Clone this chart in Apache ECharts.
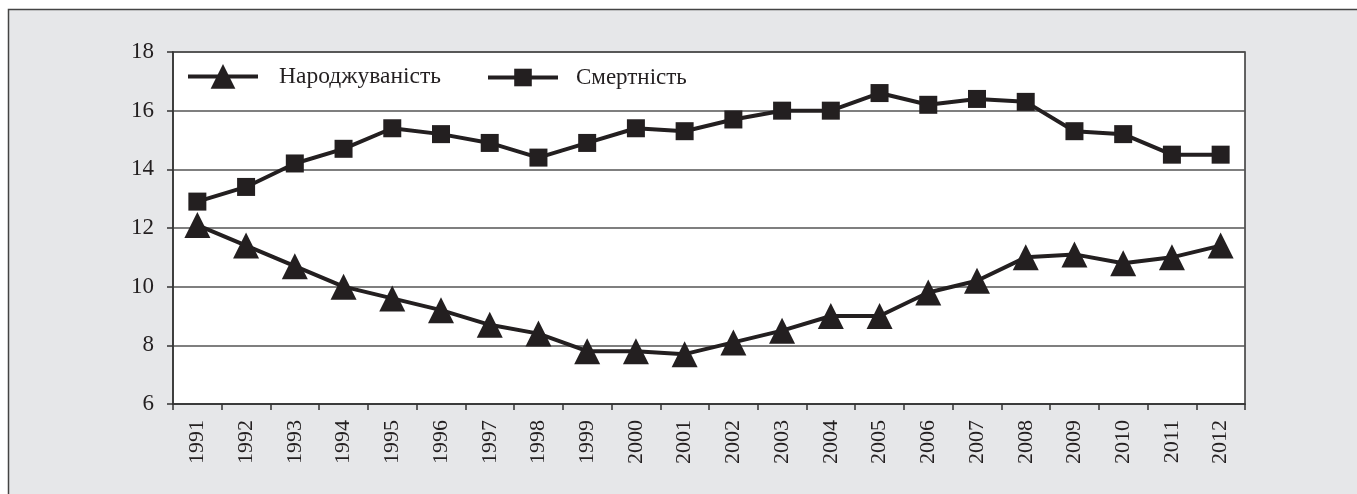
<!DOCTYPE html>
<html><head><meta charset="utf-8">
<script src="https://cdn.jsdelivr.net/npm/echarts@6/dist/echarts.min.js"></script>
<style>html,body{margin:0;padding:0;background:#fff}#c{width:1357px;height:494px}</style>
</head><body><div id="c"></div>
<script>
const years = ['1991','1992','1993','1994','1995','1996','1997','1998','1999','2000','2001','2002','2003','2004','2005','2006','2007','2008','2009','2010','2011','2012'];
const births = [12.1,11.4,10.7,10.0,9.6,9.2,8.7,8.4,7.8,7.8,7.7,8.1,8.5,9.0,9.0,9.8,10.2,11.0,11.1,10.8,11.0,11.4];
const deaths = [12.9,13.4,14.2,14.7,15.4,15.2,14.9,14.4,14.9,15.4,15.3,15.7,16.0,16.0,16.6,16.2,16.4,16.3,15.3,15.2,14.5,14.5];
const yTicks = {min:6, max:18, interval:2};
const names = ['Народжуваність','Смертність'];

const font = '"Liberation Serif", "DejaVu Serif", serif';
const ink = '#231f20';
const legendText1 = {fontFamily:font, fontSize:23.5, color:ink, padding:[0,0,0,16]};
const legendText2 = {fontFamily:font, fontSize:23, color:ink, padding:[0,0,0,13]};
const chart = echarts.init(document.getElementById('c'), null, {renderer:'canvas'});
chart.setOption({
  backgroundColor:'#fff',
  animation:false,
  graphic:[{type:'rect', z:-10, silent:true, shape:{x:8.5,y:9.5,width:1500,height:600},
    style:{fill:'#e6e7e9', stroke:'#444', lineWidth:1.5}}],
  grid:{left:173, top:52, right:112, bottom:90, show:true, backgroundColor:'#fff', borderColor:'#333', borderWidth:1.5, z:0},
  legend:[
    {left:181, top:59, itemWidth:70, itemHeight:31, lineStyle:{width:4}, textStyle:legendText1, data:[names[0]]},
    {left:481, top:61, itemWidth:70, itemHeight:22, lineStyle:{width:4}, textStyle:legendText2, data:[names[1]]}
  ],
  xAxis:{type:'category', data:years, boundaryGap:true,
    axisLine:{lineStyle:{color:'#333', width:1.5}},
    axisTick:{show:true, length:6, lineStyle:{color:'#333', width:1.5}},
    axisLabel:{rotate:90, margin:16, fontFamily:font, fontSize:22, color:ink},
    splitLine:{show:false}},
  yAxis:{type:'value', min:yTicks.min, max:yTicks.max, interval:yTicks.interval,
    axisLine:{show:true, lineStyle:{color:'#333', width:1.5}},
    axisTick:{show:true, length:6, lineStyle:{color:'#333', width:1.5}},
    axisLabel:{margin:19, fontFamily:font, fontSize:23, color:ink},
    splitLine:{show:true, lineStyle:{color:'#555', width:1.5}}},
  series:[
    {name:names[0], type:'line', data:births, symbol:'triangle', symbolSize:26,
      lineStyle:{color:ink, width:4}, itemStyle:{color:ink}, z:3},
    {name:names[1], type:'line', data:deaths, symbol:'rect', symbolSize:18,
      lineStyle:{color:ink, width:4}, itemStyle:{color:ink}, z:3}
  ]
});
</script></body></html>
